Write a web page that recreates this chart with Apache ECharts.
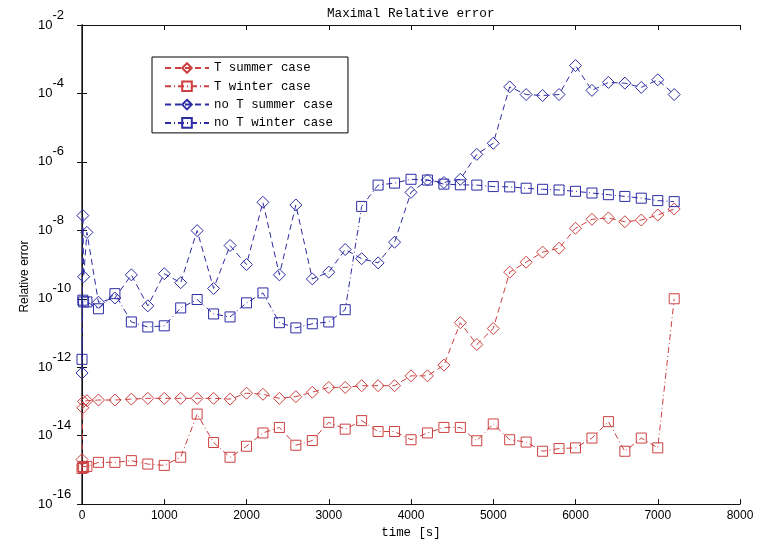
<!DOCTYPE html>
<html><head><meta charset="utf-8">
<script src="https://cdn.jsdelivr.net/npm/echarts@6/dist/echarts.min.js"></script>
<style>html,body{margin:0;padding:0;background:#fff}#c{width:760px;height:544px}</style>
</head><body><div id="c"></div>
<script>
// time [s]
const times = [0, 10, 20, 60,
  200, 400, 600, 800, 1000, 1200, 1400, 1600, 1800, 2000,
  2200, 2400, 2600, 2800, 3000, 3200, 3400, 3600, 3800, 4000,
  4200, 4400, 4600, 4800, 5000, 5200, 5400, 5600, 5800, 6000,
  6200, 6400, 6600, 6800, 7000, 7200];

const tSummer = [2.0e-15, 6.5e-14, 1.0e-13, 1.05e-13,
  1.1e-13, 1.1e-13, 1.17e-13, 1.23e-13, 1.23e-13, 1.23e-13, 1.23e-13, 1.23e-13, 1.17e-13, 1.74e-13,
  1.62e-13, 1.23e-13, 1.38e-13, 1.86e-13, 2.57e-13, 2.57e-13, 2.88e-13, 2.88e-13, 2.88e-13, 5.6e-13,
  5.6e-13, 1.15e-12, 2.0e-11, 4.6e-12, 1.35e-11, 6.0e-10, 1.17e-9, 2.3e-9, 3.0e-9, 1.15e-8,
  2.1e-8, 2.3e-8, 1.78e-8, 2.0e-8, 2.8e-8, 4.2e-8];

const tWinter = [1.1e-15, 1.26e-15, 1.17e-15, 1.26e-15,
  1.66e-15, 1.66e-15, 1.86e-15, 1.48e-15, 1.35e-15, 2.34e-15, 4.27e-14, 6.3e-15, 2.34e-15, 4.9e-15,
  1.2e-14, 1.74e-14, 5.25e-15, 7.2e-15, 2.45e-14, 1.55e-14, 2.75e-14, 1.32e-14, 1.32e-14, 7.6e-15,
  1.2e-14, 1.74e-14, 1.74e-14, 7.1e-15, 2.2e-14, 7.6e-15, 6.5e-15, 3.5e-15, 4.2e-15, 4.4e-15,
  8.5e-15, 2.57e-14, 3.5e-15, 8.5e-15, 4.4e-15, 1.0e-10];

const noTSummer = [6.8e-13, 2.7e-8, 4.4e-10, 8.7e-9,
  7.9e-11, 1.05e-10, 5.0e-10, 6.2e-11, 5.4e-10, 2.95e-10, 9.8e-9, 2.0e-10, 3.6e-9, 1.0e-9,
  6.6e-8, 5.0e-10, 5.5e-8, 3.8e-10, 6.0e-10, 2.75e-9, 1.48e-9, 1.12e-9, 4.5e-9, 1.29e-7,
  2.95e-7, 2.5e-7, 3.1e-7, 1.66e-6, 3.5e-6, 1.55e-4, 9.3e-5, 8.7e-5, 9.3e-5, 6.5e-4,
  1.23e-4, 2.1e-4, 2.0e-4, 1.5e-4, 2.5e-4, 9.3e-5];

const noTWinter = [1.7e-12, 9.1e-11, 8.1e-11, 8.1e-11,
  5.1e-11, 1.41e-10, 2.1e-11, 1.5e-11, 1.62e-11, 5.4e-11, 9.5e-11, 3.6e-11, 2.95e-11, 7.6e-11,
  1.48e-10, 2.0e-11, 1.41e-11, 1.86e-11, 2.1e-11, 4.8e-11, 5.0e-8, 2.1e-7, 2.4e-7, 3.1e-7,
  2.95e-7, 2.24e-7, 2.14e-7, 2.1e-7, 1.9e-7, 1.86e-7, 1.7e-7, 1.58e-7, 1.51e-7, 1.38e-7,
  1.23e-7, 1.1e-7, 9.8e-8, 8.7e-8, 7.4e-8, 6.9e-8];

const seriesNames = ['T summer case', 'T winter case', 'no T summer case', 'no T winter case'];
const xTicks = [0, 1000, 2000, 3000, 4000, 5000, 6000, 7000, 8000];

const RED = '#cc4040';
const BLUE = '#2c2ca4';
const MONO = '"Liberation Mono", "DejaVu Sans Mono", monospace';
const SANS = '"Liberation Sans", Arial, sans-serif';
const DASH = [6, 4];
const DASHDOT = [6, 3, 1, 3];

const pairs = arr => times.map((t, i) => [t, arr[i]]);

function mkSeries(name, arr, color, symbol, size, dash) {
  return {
    name: name, type: 'line', data: pairs(arr),
    symbol: symbol, symbolSize: size,
    showAllSymbol: true,
    itemStyle: { color: 'rgba(255,255,255,0)', borderColor: color, borderWidth: 1 },
    lineStyle: { color: color, width: 1, type: dash },
    emphasis: { disabled: true },
    animation: false
  };
}

const chart = echarts.init(document.getElementById('c'), null, { renderer: 'canvas' });
chart.setOption({
  backgroundColor: '#fff',
  animation: false,
  title: {
    text: 'Maximal Relative error', left: 322, top: 2,
    textStyle: { fontFamily: MONO, fontSize: 12.7, fontWeight: 'normal', color: '#000' }
  },
  legend: {
    orient: 'vertical', left: 152, top: 57,
    data: seriesNames,
    itemWidth: 44, itemHeight: 12, itemGap: 6.3,
    padding: [5, 15, 4, 12],
    backgroundColor: '#fff', borderColor: '#000', borderWidth: 1,
    textStyle: { fontFamily: MONO, fontSize: 12.4, color: '#000' }
  },
  grid: { left: 82, right: 20, top: 25, bottom: 37 },
  xAxis: [{
    type: 'value', min: xTicks[0], max: xTicks[xTicks.length - 1], interval: 1000, position: 'bottom',
    name: 'time [s]', nameLocation: 'middle', nameGap: 20,
    nameTextStyle: { fontFamily: MONO, fontSize: 12.4, color: '#000' },
    axisLine: { show: true, lineStyle: { color: '#111', width: 1 } },
    axisTick: { show: true, inside: true, length: 5, lineStyle: { color: '#111' } },
    axisLabel: { fontFamily: SANS, fontSize: 12, color: '#000', margin: 6, formatter: v => String(v) },
    splitLine: { show: false }
  }, {
    type: 'value', min: xTicks[0], max: xTicks[xTicks.length - 1], interval: 1000, position: 'top',
    axisLine: { show: true, lineStyle: { color: '#111', width: 1 } },
    axisTick: { show: true, inside: true, length: 5, lineStyle: { color: '#111' } },
    axisLabel: { show: false }, splitLine: { show: false }
  }],
  yAxis: [{
    type: 'log', logBase: 10, min: 1e-16, max: 1e-2, interval: 2, position: 'left',
    name: 'Relative error', nameLocation: 'middle', nameGap: 51, nameRotate: 90,
    nameMoveOverlap: false,
    nameTextStyle: { fontFamily: SANS, fontSize: 12, color: '#000', padding: [0, 24, 0, 0] },
    axisLine: { show: true, lineStyle: { color: '#333', width: 1.5 } },
    axisTick: { show: true, inside: true, length: 5, lineStyle: { color: '#111' } },
    axisLabel: {
      margin: 44, align: 'left', padding: [0, 0, 10, 0],
      formatter: v => '{b|10}{s|' + Math.round(Math.log10(v)) + '}',
      rich: {
        b: { fontFamily: SANS, fontSize: 13, color: '#000', padding: [10, 0, 0, 0] },
        s: { fontFamily: SANS, fontSize: 13, color: '#000', verticalAlign: 'top' }
      }
    },
    splitLine: { show: false }
  }, {
    type: 'log', logBase: 10, min: 1e-16, max: 1e-2, interval: 2, position: 'right',
    axisLine: { show: true, lineStyle: { color: '#111', width: 1 } },
    axisTick: { show: true, inside: true, length: 5, lineStyle: { color: '#111' } },
    axisLabel: { show: false }, splitLine: { show: false }
  }],
  series: [
    mkSeries(seriesNames[0], tSummer, RED, 'diamond', 12, DASH),
    mkSeries(seriesNames[1], tWinter, RED, 'rect', 10, DASHDOT),
    mkSeries(seriesNames[2], noTSummer, BLUE, 'diamond', 12, DASH),
    mkSeries(seriesNames[3], noTWinter, BLUE, 'rect', 10, DASHDOT)
  ]
});
</script>
</body></html>
